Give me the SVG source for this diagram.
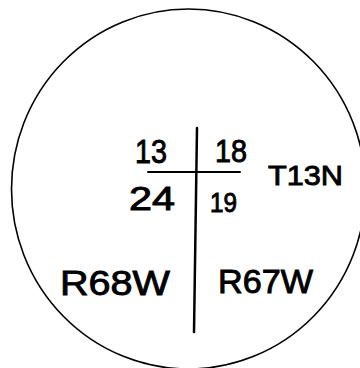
<svg xmlns="http://www.w3.org/2000/svg" width="360" height="368" viewBox="0 0 360 368">
<style>
.t{font-family:"Liberation Sans",Arial,sans-serif;fill:#000;stroke:#000;stroke-width:0.9}
.ln{stroke:#000;fill:none;stroke-linecap:round}
</style>
<rect width="360" height="368" fill="#fff"/>
<g id="boundary">
<ellipse cx="188.5" cy="189" rx="177" ry="180" class="ln" stroke-width="1.6"/>
</g>
<g id="connectors">
<line x1="197" y1="128" x2="194" y2="332" class="ln" stroke-width="2.5"/>
<line x1="148" y1="172" x2="240" y2="172" class="ln" stroke-width="2"/>
</g>
<g id="labels">
<text class="t" x="135" y="163" font-size="33" textLength="32" lengthAdjust="spacingAndGlyphs">13</text>
<text class="t" x="215" y="162" font-size="31" textLength="32" lengthAdjust="spacingAndGlyphs">18</text>
<text class="t" x="268" y="185" font-size="28" textLength="75" lengthAdjust="spacingAndGlyphs">T13N</text>
<text class="t" x="129" y="210" font-size="33" textLength="46" lengthAdjust="spacingAndGlyphs">24</text>
<text class="t" x="210" y="212" font-size="27" textLength="27" lengthAdjust="spacingAndGlyphs">19</text>
<text class="t" x="60" y="295" font-size="35" textLength="110" lengthAdjust="spacingAndGlyphs">R68W</text>
<text class="t" x="218" y="293" font-size="33" textLength="95" lengthAdjust="spacingAndGlyphs">R67W</text>
</g>
</svg>
